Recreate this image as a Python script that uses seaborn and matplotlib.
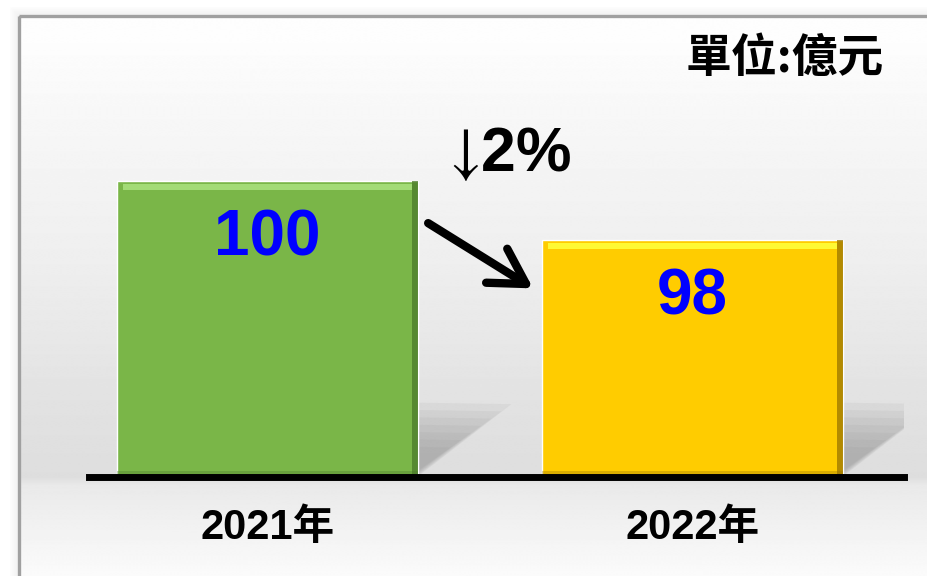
import numpy as np
import pandas as pd
import matplotlib
matplotlib.use("Agg")
import matplotlib.pyplot as plt
import seaborn as sns
from matplotlib.patches import Rectangle, Polygon

# 資料
years = ["2021年", "2022年"]
amounts = [100, 98]
bar_colors = ["#7ab648", "#ffcc00"]
light_colors = ["#a8e07c", "#ffff3a"]   # 立體感：上緣亮邊
dark_colors = ["#4b7a2a", "#9a7400"]    # 立體感：右緣暗邊
change_label = "↓2%"
unit_label = "單位:億元"

sns.set_theme(style="white")
plt.rcParams["font.family"] = ["Liberation Sans", "Noto Sans CJK TC", "DejaVu Sans"]

W, H = 927, 576
fig = plt.figure(figsize=(W / 100, H / 100), dpi=100)

# ---------------- 背景漸層 + 外框 ----------------
bg = fig.add_axes([0, 0, 1, 1])
rows = np.arange(H)
shade = np.interp(rows, [17, 100, 250, 400, 474, 482, 576],
                  [0.995, 0.97, 0.935, 0.885, 0.87, 0.915, 0.985])
grad = np.repeat(shade[:, None], 2, axis=1)
bg.imshow(grad, cmap="gray", vmin=0, vmax=1, extent=(20, W, H, 17),
          aspect="auto", interpolation="bilinear")
for k in range(1, 10):   # 外框陰影
    bg.add_patch(Rectangle((19.5 - k, 15.5 - k), 1000, 700, fill=False,
                           edgecolor="#808080", lw=0.9, alpha=0.09 * (10 - k) / 9))
bg.add_patch(Rectangle((19.5, 15.5), 1000, 700, fill=False, edgecolor="#a0a0a0", lw=2.4))
bg.set_xlim(0, W)
bg.set_ylim(H, 0)
bg.axis("off")

# ---------------- 長條圖 ----------------
ax = fig.add_axes([89 / W, (H - 476.5) / H, 815 / W, (476.5 - 17) / H])
ax.patch.set_alpha(0)
df = pd.DataFrame({"year": years, "amount": amounts})
sns.barplot(data=df, x="year", y="amount", hue="year", palette=bar_colors,
            saturation=1, width=0.708, legend=False, ax=ax, zorder=3)

ax.set_ylim(90, 105.56)
ax.set_xlim(-0.42, 1.4976)
px_x = 815 / (1.4976 + 0.42)      # 每單位像素
px_y = (476.5 - 17) / (105.56 - 90)

for i, p in enumerate(ax.patches):
    x0, w, top = p.get_x(), p.get_width(), p.get_height()
    xr = x0 + w
    # 柔和陰影（多層疊加）
    for s in np.linspace(1.0, 0.35, 7):
        ax.add_patch(Polygon([(xr, 90 + 0.3 * (1 - s)), (xr, 90.2 + 2.3 * s),
                              (xr + 0.22 * s, 90.2 + 2.25 * s)],
                             closed=True, color="#8c8c8c", alpha=0.1, lw=0, zorder=1))
    # 上緣亮邊、右緣暗邊
    ax.add_patch(Rectangle((x0 + 6 / px_x, top - 9 / px_y), w - 12 / px_x, 6 / px_y,
                           color=light_colors[i], alpha=0.9, lw=0, zorder=4))
    ax.add_patch(Rectangle((xr - 6 / px_x, 90), 6 / px_x, top - 90,
                           color=dark_colors[i], alpha=0.75, lw=0, zorder=4))
    ax.add_patch(Rectangle((x0, 90), w, 6 / px_y,
                           color=dark_colors[i], alpha=0.35, lw=0, zorder=4))
    ax.text(i, amounts[i] - 2.5, str(amounts[i]), ha="center", va="baseline",
            color="#0000ff", fontsize=46, fontweight="bold", zorder=5)

for s in ["left", "top", "right"]:
    ax.spines[s].set_visible(False)
ax.spines["bottom"].set_linewidth(5)
ax.spines["bottom"].set_color("black")
ax.spines["bottom"].set_zorder(6)
ax.set_xlabel("")
ax.set_ylabel("")
ax.set_yticks([])
ax.tick_params(axis="x", length=0, pad=23, labelsize=30, labelcolor="black")
for lbl in ax.get_xticklabels():
    lbl.set_fontweight("bold")

# 變化百分比 + 箭頭（↓ 用 STIX 細箭頭）
ax.text(0.426, 100.34, "$" + change_label[0] + "$" + change_label[1:], ha="left",
        va="baseline", fontsize=45, fontweight="bold", color="black",
        math_fontfamily="stix")
ax.annotate("", xy=(0.625, 96.37), xytext=(0.378, 98.58),
            arrowprops=dict(arrowstyle="->,head_length=0.83,head_width=0.48",
                            lw=6, color="black", mutation_scale=30,
                            shrinkA=0, shrinkB=0))

fig.text(884 / W, 1 - 59 / H, unit_label, ha="right", va="center", fontsize=33,
         fontweight="bold", family=["Noto Sans CJK TC"], color="black")

fig.savefig("out.png", dpi=100)
